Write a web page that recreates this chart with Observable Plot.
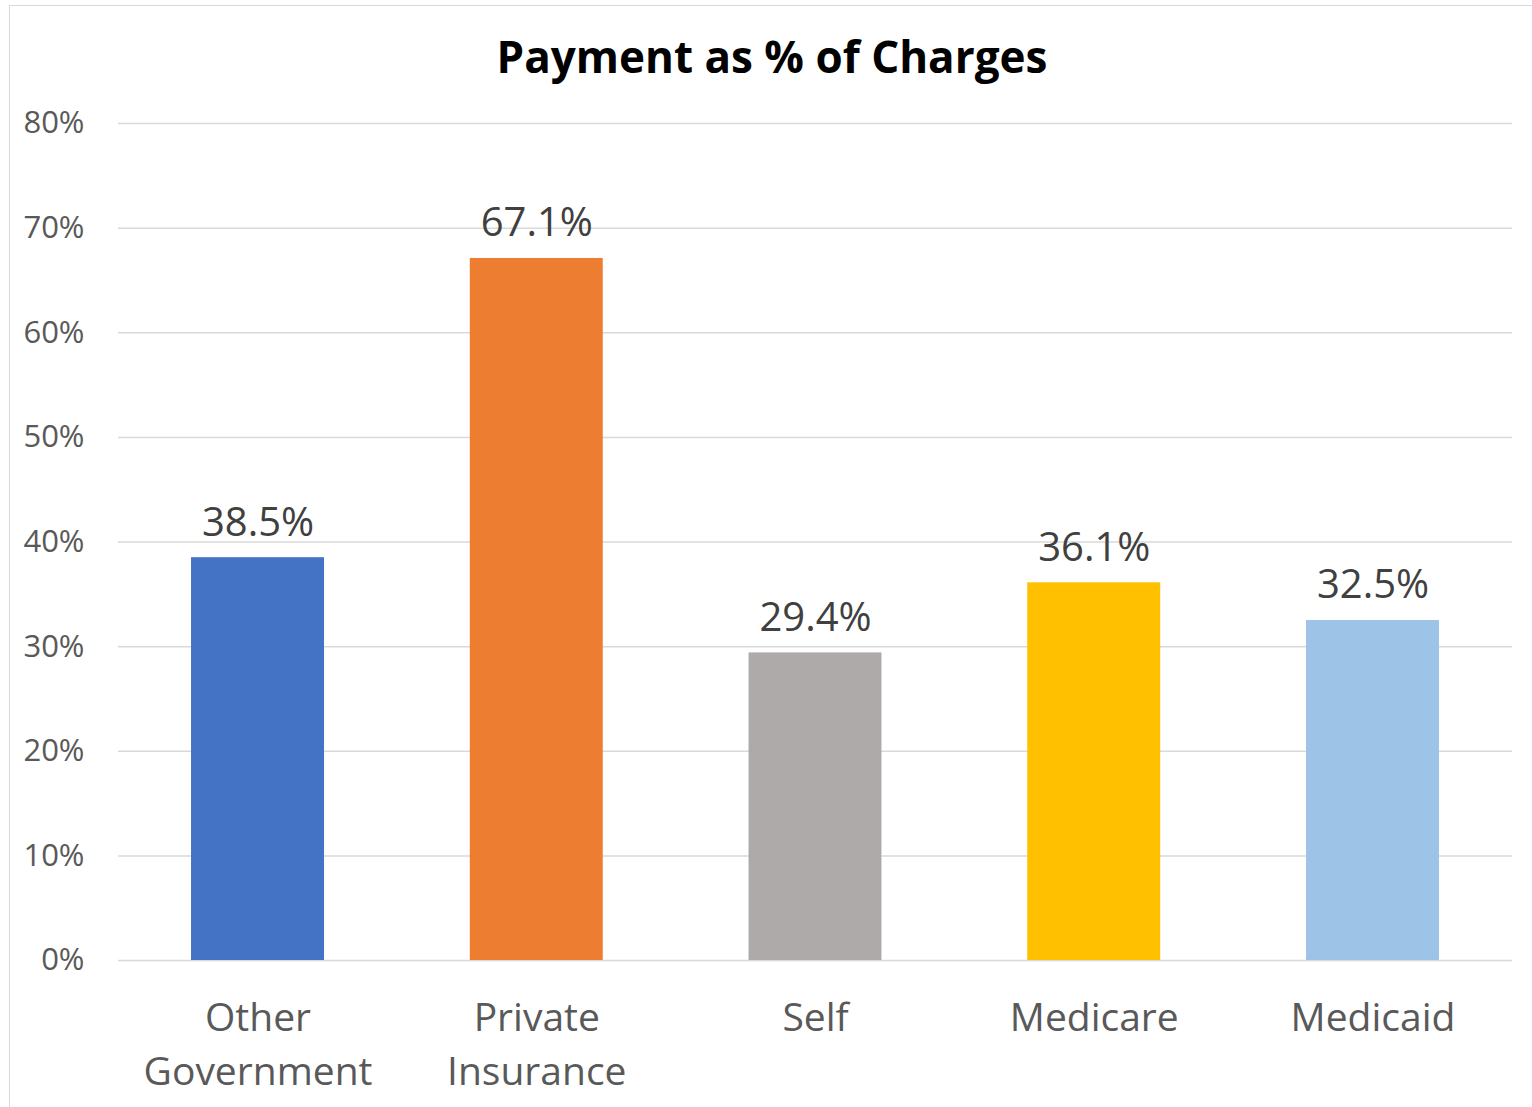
<!DOCTYPE html>
<html>
<head>
<meta charset="utf-8">
<script src="https://cdn.jsdelivr.net/npm/d3@7"></script>
<script src="https://cdn.jsdelivr.net/npm/@observablehq/plot@0.6"></script>
<style>
  html, body { margin: 0; padding: 0; background: #fff; overflow: hidden; width: 1532px; height: 1107px; }
  #frame { position: absolute; left: 9px; top: 5px; width: 1600px; height: 1200px; border: 1.5px solid #d9d9d9; box-sizing: border-box; }
  #title { position: absolute; left: 0; width: 1544px; top: 26px; text-align: center; font-family: "Open Sans", sans-serif; font-weight: 700; font-size: 44px; color: #000; line-height: 60px; }
  #chart { position: absolute; left: 0; top: 90px; }
</style>
</head>
<body>
<div id="frame"></div>
<div id="title">Payment as % of Charges</div>
<div id="chart"></div>
<script>
const categories = ["Other\nGovernment", "Private\nInsurance", "Self", "Medicare", "Medicaid"];
const values = [0.385, 0.671, 0.294, 0.361, 0.325];
const colors = ["#4472C4", "#ED7D31", "#AEAAAA", "#FFC000", "#9DC3E6"];
const yTicks = [0, 0.1, 0.2, 0.3, 0.4, 0.5, 0.6, 0.7, 0.8];

const data = categories.map((c, i) => ({category: c, value: values[i]}));

const chart = Plot.plot({
  width: 1532,
  height: 1017,
  marginTop: 33,
  marginBottom: 147,
  marginLeft: 118,
  marginRight: 20,
  style: {fontFamily: "Open Sans, sans-serif", background: "transparent"},
  x: {domain: categories, paddingInner: 0.523, paddingOuter: 0.262, round: false, label: null},
  y: {domain: [0, 0.8], label: null},
  color: {domain: categories, range: colors},
  marks: [
    Plot.gridY(yTicks, {stroke: "#d9d9d9", strokeOpacity: 1, strokeWidth: 1.5}),
    Plot.barY(data, {x: "category", y: "value", fill: "category"}),
    Plot.text(data, {x: "category", y: "value", text: d => (d.value * 100).toFixed(1) + "%", dy: -22, lineAnchor: "bottom", fontSize: 40, fill: "#404040"}),
    Plot.axisY({ticks: yTicks, tickFormat: d => Math.round(d * 100) + "%", tickSize: 0, tickPadding: 34, fontSize: 31, color: "#595959", label: null}),
    Plot.axisX({tickSize: 0, tickPadding: 32, fontSize: 39, lineHeight: 1.385, color: "#595959", label: null})
  ]
});
document.getElementById("chart").appendChild(chart);
</script>
</body>
</html>
